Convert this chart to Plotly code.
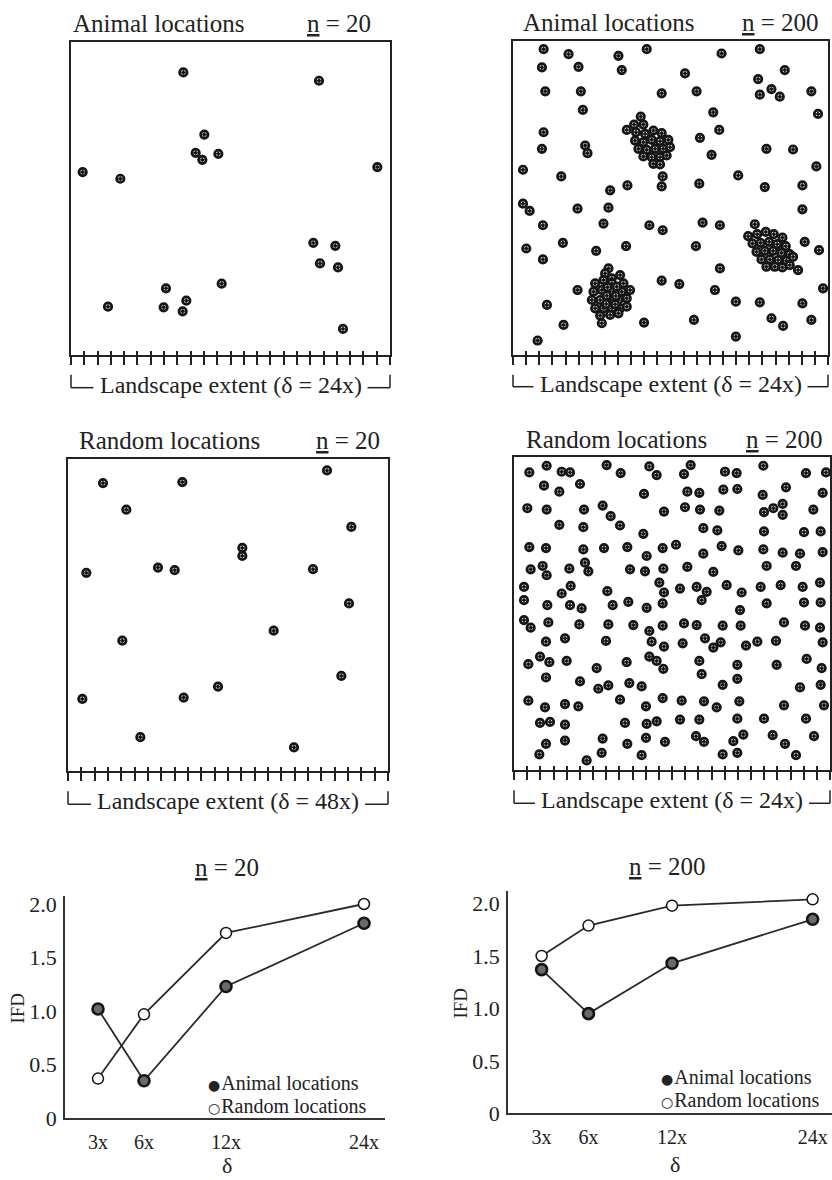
import numpy as np
import plotly.graph_objects as go

# ---------------- DATA ----------------
x_tl = [370, 777, 433, 407, 427, 475, 68, 181, 952, 760, 826, 780, 834, 318, 485, 144, 311, 379, 368, 849]
y_tl = [205, 230, 392, 447, 468, 450, 505, 525, 490, 718, 727, 780, 792, 855, 841, 910, 912, 892, 924, 977]

x_ml = [802, 130, 368, 200, 875, 548, 548, 80, 295, 345, 760, 868, 642, 188, 845, 475, 68, 372, 242, 703]
y_ml = [145, 183, 180, 263, 315, 378, 402, 453, 437, 445, 442, 545, 627, 657, 763, 795, 832, 828, 947, 978]

x_tr_scatter = [130, 205, 355, 440, 665, 780, 125, 235, 365, 555, 855, 775, 780, 815, 840,
                135, 242, 485, 590, 935, 248, 640, 955, 130, 658, 600, 125, 255, 262, 800, 880,
                635, 68, 183, 488, 485, 715, 950, 330, 382, 598, 795, 908, 68, 88, 232, 325, 908,
                128, 310, 448, 488, 608, 660, 765, 78, 188, 288, 378, 588, 915, 958, 128,
                660, 895, 485, 538, 232, 645, 970, 140, 708, 780, 908,
                190, 432, 582, 815, 850, 935, 112, 708]
y_tr_scatter = [135, 150, 155, 135, 148, 135, 190, 188, 198, 208, 198, 225, 272, 255, 278,
                262, 262, 268, 262, 262, 318, 325, 330, 385, 378, 402, 435, 425, 448, 435, 437,
                453, 498, 518, 518, 548, 515, 488, 560, 545, 540, 550, 545, 600, 622, 615, 612, 617,
                665, 660, 665, 680, 657, 665, 662, 735, 718, 742, 728, 728, 715, 740, 768,
                795, 800, 832, 842, 860, 860, 855, 905, 895, 897, 900,
                965, 958, 950, 945, 968, 950, 1012, 1000]
x_tr_cluster1 = [422, 402, 430, 380, 408, 435, 460, 485, 405, 430, 455, 480, 505, 415, 440, 465, 490, 510, 430, 455, 480, 500, 460, 480]
y_tr_cluster1 = [338, 362, 362, 378, 385, 390, 380, 388, 410, 415, 408, 412, 408, 435, 438, 435, 435, 430, 458, 460, 460, 455, 480, 482]
x_tr_cluster2 = [745, 772, 798, 822, 848, 758, 782, 808, 832, 858, 770, 795, 820, 845, 870, 785, 810, 835, 860, 880, 800, 825, 848, 870]
y_tr_cluster2 = [698, 692, 685, 692, 702, 720, 718, 715, 722, 728, 745, 742, 742, 748, 752, 768, 768, 770, 772, 760, 790, 790, 792, 785]
x_tr_cluster3 = [325, 315, 360, 335, 285, 310, 335, 370, 280, 305, 340, 365, 390, 275, 300, 330, 355, 380, 285, 310, 335, 360, 380, 300, 330, 355, 305,
                 320, 347, 322, 350, 318, 345]
y_tr_cluster3 = [795, 810, 815, 825, 840, 830, 840, 840, 865, 860, 865, 865, 860, 890, 890, 890, 890, 885, 915, 915, 915, 915, 910, 937, 935, 930, 960,
                 877, 878, 852, 850, 902, 903]

x_mr = [88, 140, 185, 210, 320, 362, 448, 470, 552, 572, 675, 710, 790, 918, 978,
        132, 178, 240, 432, 562, 598, 670, 712, 788, 858, 968,
        82, 140, 252, 308, 332, 492, 555, 600, 658, 792, 820, 848, 848, 940,
        178, 250, 360, 430, 610, 652, 792, 912, 962,
        88, 138, 250, 312, 382, 440, 488, 528, 610, 665, 715, 790, 848, 900, 968,
        92, 128, 140, 208, 255, 265, 390, 435, 490, 562, 640, 800, 888,
        72, 72, 185, 212, 322, 478, 492, 488, 540, 590, 620, 605, 680, 725, 782, 842, 908, 960, 912, 962,
        142, 210, 245, 338, 385, 440, 720, 800,
        72, 92, 145, 238, 325, 400, 448, 488, 552, 590, 668, 722, 852, 915, 960,
        138, 195, 318, 455, 492, 548, 615, 640, 662, 738, 772, 828, 968,
        85, 120, 148, 200, 290, 380, 448, 470, 490, 598, 605, 712, 830, 920, 965,
        138, 240, 295, 325, 388, 425, 668, 712, 900, 962,
        85, 135, 195, 235, 360, 438, 488, 545, 612, 650, 718, 852, 972,
        120, 150, 195, 375, 440, 470, 540, 598, 712, 792, 918,
        138, 195, 308, 382, 438, 495, 588, 612, 700, 730, 818, 855, 942,
        118, 260, 305, 425, 668, 712, 888]
y_mr = [150, 130, 148, 150, 128, 152, 132, 158, 155, 128, 148, 152, 130, 152, 150,
        190, 208, 185, 215, 208, 212, 202, 200, 218, 195, 212,
        258, 262, 262, 250, 282, 268, 255, 262, 265, 270, 258, 245, 278, 262,
        308, 315, 310, 335, 318, 325, 328, 330, 328,
        375, 378, 382, 378, 375, 402, 378, 368, 395, 372, 385, 382, 392, 395, 390,
        442, 432, 460, 440, 422, 448, 442, 448, 440, 435, 450, 432, 432,
        495, 535, 515, 492, 508, 482, 512, 545, 500, 495, 510, 535, 490, 512, 495, 490, 495, 482, 542, 542,
        550, 550, 560, 550, 540, 558, 565, 545,
        595, 618, 602, 608, 608, 610, 628, 612, 605, 610, 612, 612, 602, 612, 618,
        660, 650, 658, 660, 675, 665, 650, 678, 662, 672, 660, 658, 662,
        728, 705, 722, 718, 740, 722, 705, 718, 742, 718, 758, 730, 730, 712, 740,
        768, 780, 802, 792, 785, 795, 790, 772, 798, 790,
        838, 858, 848, 855, 835, 855, 830, 838, 840, 858, 840, 852, 852,
        905, 902, 910, 905, 908, 900, 895, 895, 892, 892, 892,
        968, 958, 952, 968, 950, 962, 945, 962, 960, 940, 942, 968, 945,
        1000, 1018, 995, 1002, 1000, 995, 1002]

x_tr = x_tr_scatter + x_tr_cluster1 + x_tr_cluster2 + x_tr_cluster3
y_tr = y_tr_scatter + y_tr_cluster1 + y_tr_cluster2 + y_tr_cluster3

# IFD values
delta_labels = ["3x", "6x", "12x", "24x"]
ifd_n20_animal = [1.02, 0.35, 1.23, 1.82]
ifd_n20_random = [0.37, 0.97, 1.73, 2.00]
ifd_n200_animal = [1.37, 0.95, 1.43, 1.85]
ifd_n200_random = [1.50, 1.79, 1.98, 2.04]
ifd_ticks = [0, 0.5, 1.0, 1.5, 2.0]
ifd_ticktext = ["0", "0.5", "1.0", "1.5", "2.0"]
legend_names = ["Animal locations", "Random locations"]

# ---------------- LAYOUT HELPERS ----------------
W, H = 832, 1193          # figure size
REF_H = 1180              # layout positions below are given on a 1180-px tall sheet
FONT = "Liberation Serif"
INK = "#222222"


def fx(p):
    return p / W


def fy(p):
    return 1 - p / REF_H


delta_pos = [33, 79, 161, 299]  # category positions along the delta axis

fig = go.Figure()

panels = [
    dict(x=x_tl, y=y_tl, xr=[33, 990], yr=[1055, 113], box=(71, 38, 390, 352),
         title="Animal locations", n="<u>n</u> = 20", title_x=71, n_x=373, title_y=20,
         ext="Landscape extent (δ = 24x)", ext_y=382),
    dict(x=x_tr, y=y_tr, xr=[38, 985], yr=[1055, 110], box=(513, 37, 828, 352),
         title="Animal locations", n="<u>n</u> = 200", title_x=521, n_x=821, title_y=19,
         ext="Landscape extent (δ = 24x)", ext_y=381),
    dict(x=x_ml, y=y_ml, xr=[25, 985], yr=[1050, 112], box=(68, 457, 388, 770),
         title="Random locations", n="<u>n</u> = 20", title_x=77, n_x=382, title_y=438,
         ext="Landscape extent (δ = 48x)", ext_y=800),
    dict(x=x_mr, y=y_mr, xr=[42, 990], yr=[1048, 105], box=(514, 455, 830, 769),
         title="Random locations", n="<u>n</u> = 200", title_x=524, n_x=825, title_y=437,
         ext="Landscape extent (δ = 24x)", ext_y=799),
]

annotations = []
shapes = []
layout_axes = {}
TXT = dict(family=FONT, size=25, color=INK)
EXT = dict(family=FONT, size=24, color=INK)

for i, p in enumerate(panels, start=1):
    xa = "x" if i == 1 else f"x{i}"
    ya = "y" if i == 1 else f"y{i}"
    L, T, R, B = p["box"]
    fig.add_trace(go.Scatter(
        x=p["x"], y=p["y"], mode="markers", xaxis=xa, yaxis=ya, showlegend=False,
        marker=dict(symbol="circle-dot", size=7.5, color="white",
                    line=dict(color="#151515", width=2.7)),
        hoverinfo="skip"))
    # empty trace so that the overlay axis (inner half of the crossing ticks) is drawn
    fig.add_trace(go.Scatter(x=[None], y=[None], xaxis=f"x{i + 6}", yaxis=ya,
                             showlegend=False, hoverinfo="skip"))
    tv = list(np.linspace(p["xr"][0], p["xr"][1], 25))
    layout_axes[f"xaxis{'' if i == 1 else i}"] = dict(
        domain=[fx(L), fx(R)], range=p["xr"], anchor=ya, showline=True, mirror=True,
        linecolor=INK, linewidth=1.6, ticks="outside", ticklen=8, tickwidth=1.5,
        tickcolor=INK, tickvals=tv, showticklabels=False, showgrid=False, zeroline=False)
    layout_axes[f"yaxis{'' if i == 1 else i}"] = dict(
        domain=[fy(B), fy(T)], range=p["yr"], anchor=xa, showline=True, mirror=True,
        linecolor=INK, linewidth=1.6, ticks="", showticklabels=False, showgrid=False,
        zeroline=False)
    layout_axes[f"xaxis{i + 6}"] = dict(
        overlaying=xa, anchor=ya, range=p["xr"], side="bottom", ticks="inside", ticklen=4,
        tickwidth=1.5, tickcolor=INK, tickvals=tv, showline=False, showticklabels=False,
        showgrid=False, zeroline=False)

    annotations.append(dict(text=p["title"], x=fx(p["title_x"]), y=fy(p["title_y"]),
                            xref="paper", yref="paper", xanchor="left", yanchor="middle",
                            showarrow=False, font=TXT))
    annotations.append(dict(text=p["n"], x=fx(p["n_x"]), y=fy(p["title_y"]),
                            xref="paper", yref="paper", xanchor="right", yanchor="middle",
                            showarrow=False, font=TXT))
    cx = (L + R) / 2
    cy = p["ext_y"]
    annotations.append(dict(text=p["ext"], x=fx(cx), y=fy(cy), xref="paper", yref="paper",
                            xanchor="center", yanchor="middle", showarrow=False, font=EXT))
    hw = 137
    line = dict(color=INK, width=1.5)
    ly = cy + 3
    shapes += [
        dict(type="line", xref="paper", yref="paper", x0=fx(L), x1=fx(L), y0=fy(B + 20), y1=fy(ly), line=line),
        dict(type="line", xref="paper", yref="paper", x0=fx(L), x1=fx(cx - hw), y0=fy(ly), y1=fy(ly), line=line),
        dict(type="line", xref="paper", yref="paper", x0=fx(cx + hw), x1=fx(R), y0=fy(ly), y1=fy(ly), line=line),
        dict(type="line", xref="paper", yref="paper", x0=fx(R), x1=fx(R), y0=fy(ly), y1=fy(B + 20), line=line),
    ]

# ---------------- IFD CHARTS ----------------
ifd_charts = [
    dict(xa="x5", ya="y5", animal=ifd_n20_animal, random=ifd_n20_random,
         dom_x=(65, 385), dom_y=(895, 1118), yr=[0, 2.075], xr=[0, 320],
         title="<u>n</u> = 20", title_xy=(227, 866), ifd_xy=(18, 1008), d_xy=(227, 1165),
         leg_x=206, leg_y=(1083, 1106), leg_size=20),
    dict(xa="x6", ya="y6", animal=ifd_n200_animal, random=ifd_n200_random,
         dom_x=(508, 832), dom_y=(890, 1113), yr=[0, 2.12], xr=[0, 318],
         title="<u>n</u> = 200", title_xy=(667, 865), ifd_xy=(461, 1003), d_xy=(675, 1164),
         leg_x=659, leg_y=(1077, 1100), leg_size=20),
]

animal_marker = dict(symbol="circle", size=11, color="#6a6a6a", line=dict(color="#151515", width=2.6))
random_marker = dict(symbol="circle", size=11, color="white", line=dict(color="#151515", width=1.5))
legend_glyphs = ["●", "○"]

for c in ifd_charts:
    for vals, mk in ((c["random"], random_marker), (c["animal"], animal_marker)):
        fig.add_trace(go.Scatter(x=delta_pos, y=vals, mode="lines+markers", xaxis=c["xa"],
                                 yaxis=c["ya"], showlegend=False, hoverinfo="skip",
                                 line=dict(color="#2a2a2a", width=1.8), marker=mk))
    n = c["xa"][1:]
    layout_axes[f"xaxis{n}"] = dict(
        domain=[fx(c["dom_x"][0]), fx(c["dom_x"][1])], range=c["xr"], anchor=c["ya"],
        showline=True, linecolor="#333333", linewidth=1.6, ticks="", tickvals=delta_pos,
        ticktext=delta_labels, tickfont=dict(family=FONT, size=20, color=INK),
        ticklabelstandoff=5, showgrid=False, zeroline=False)
    layout_axes[f"yaxis{n}"] = dict(
        domain=[fy(c["dom_y"][1]), fy(c["dom_y"][0])], range=c["yr"], anchor=c["xa"],
        showline=True, linecolor="#333333", linewidth=1.6, ticks="", tickvals=ifd_ticks,
        ticktext=ifd_ticktext, tickfont=dict(family=FONT, size=22, color=INK),
        ticklabelstandoff=2, showgrid=False, zeroline=False)
    annotations.append(dict(text=c["title"], x=fx(c["title_xy"][0]), y=fy(c["title_xy"][1]),
                            xref="paper", yref="paper", xanchor="center", yanchor="middle",
                            showarrow=False, font=TXT))
    annotations.append(dict(text="IFD", x=fx(c["ifd_xy"][0]), y=fy(c["ifd_xy"][1]),
                            xref="paper", yref="paper", xanchor="center", yanchor="middle",
                            textangle=-90, showarrow=False,
                            font=dict(family=FONT, size=19, color=INK)))
    annotations.append(dict(text="δ", x=fx(c["d_xy"][0]), y=fy(c["d_xy"][1]),
                            xref="paper", yref="paper", xanchor="center", yanchor="middle",
                            showarrow=False, font=dict(family=FONT, size=22, color=INK)))
    for name, glyph, ly in zip(legend_names, legend_glyphs, c["leg_y"]):
        label = (f'<span style="font-family:DejaVu Sans;font-size:14px">{glyph}</span>'
                 f'<span style="font-size:4px"> </span>{name}')
        annotations.append(dict(text=label, x=fx(c["leg_x"]), y=fy(ly), xref="paper",
                                yref="paper", xanchor="left", yanchor="middle",
                                showarrow=False,
                                font=dict(family=FONT, size=c["leg_size"], color=INK)))

fig.update_layout(
    width=W, height=H, margin=dict(l=0, r=0, t=0, b=0),
    paper_bgcolor="white", plot_bgcolor="rgba(0,0,0,0)",
    showlegend=False, annotations=annotations, shapes=shapes,
    font=dict(family=FONT, color=INK),
    **layout_axes)

fig.write_html("out.html")
